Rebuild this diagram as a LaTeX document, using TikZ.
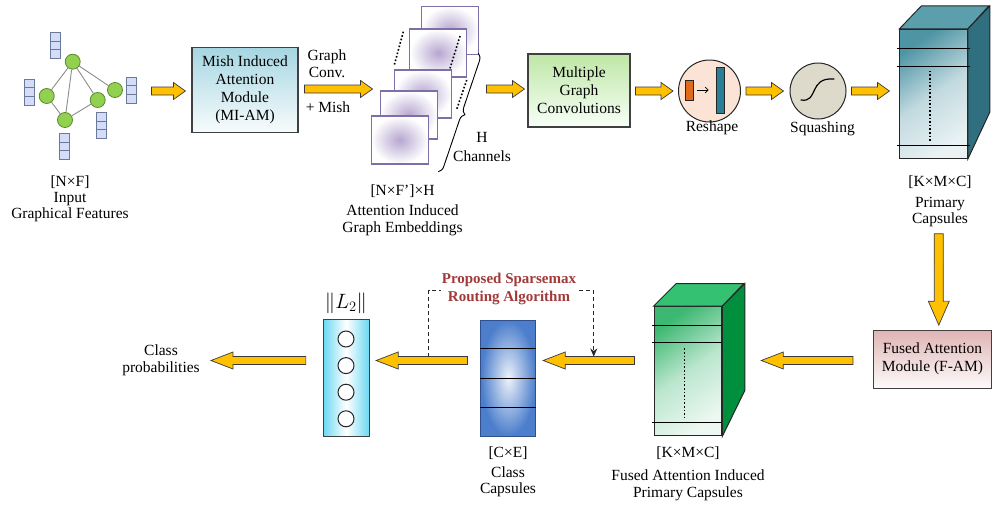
\documentclass[tikz,border=0pt]{standalone}
\usepackage{fontspec}
\setmainfont{Liberation Serif}
\usepackage{tikz}
\usetikzlibrary{arrows.meta,positioning,calc,decorations.pathreplacing}
\definecolor{capgold}{HTML}{FFC000}
\definecolor{capline}{HTML}{3A3A3A}
\definecolor{gnodefill}{HTML}{92D050}
\definecolor{gnodeedge}{HTML}{5A8A30}
\definecolor{featfill}{HTML}{D4DCF8}
\definecolor{featedge}{HTML}{6A7A9A}
\definecolor{miamtop}{HTML}{A6D6E2}
\definecolor{planeedge}{HTML}{7E6FA8}
\definecolor{planemid}{HTML}{B6A6D0}
\definecolor{reshfill}{HTML}{FBE3D5}
\definecolor{reshorange}{HTML}{E06A1A}
\definecolor{reshteal}{HTML}{2A7E96}
\definecolor{sqfill}{HTML}{DEDACB}
\definecolor{primtop}{HTML}{5C9FAC}
\definecolor{primside}{HTML}{2F6F7F}
\definecolor{primdark}{HTML}{4E94A4}
\definecolor{famtop}{HTML}{E0B4B4}
\definecolor{fusetop}{HTML}{34C172}
\definecolor{fuseside}{HTML}{008F3D}
\definecolor{fusedark}{HTML}{3DB872}
\definecolor{ccapouter}{HTML}{4C7ECC}
\definecolor{ccapedge}{HTML}{2F4F8F}
\definecolor{ltwoside}{HTML}{6CD9F2}
\definecolor{routered}{HTML}{A23A3A}
\tikzset{
  box/.style={draw=black!75, line width=1.1pt, align=center, inner sep=2pt, font=\fontsize{15.5}{18}\selectfont},
  lbl/.style={align=center, inner sep=1pt},
  gnode/.style={circle, draw=gnodeedge, fill=gnodefill, line width=0.8pt, minimum size=15pt, inner sep=0pt},
  gedge/.style={draw=black!45, line width=0.9pt},
  featvec/.style={draw=featedge, fill=featfill, line width=0.8pt, minimum width=10pt, minimum height=26pt, inner sep=0pt,
    path picture={\draw[featedge, line width=0.8pt]
      ($(path picture bounding box.north west)!0.333!(path picture bounding box.south west)$) -- ($(path picture bounding box.north east)!0.333!(path picture bounding box.south east)$)
      ($(path picture bounding box.north west)!0.667!(path picture bounding box.south west)$) -- ($(path picture bounding box.north east)!0.667!(path picture bounding box.south east)$);}},
  plane/.style={draw=planeedge, line width=1.3pt, inner color=planemid, outer color=white, minimum width=57pt, minimum height=48pt},
  dotsep/.style={dotted, line width=1.6pt},
  capfront/.style={draw=black!85, line width=1pt, inner sep=0pt},
  blockarrow/.style n args={3}{draw=capline, fill=capgold, line width=0.7pt, line join=miter,
    to path={
      ($(\tikztostart)!#1!90:(\tikztotarget)$)
      -- ($($(\tikztotarget)!#3!(\tikztostart)$)!#1!90:(\tikztotarget)$)
      -- ($($(\tikztotarget)!#3!(\tikztostart)$)!#2!90:(\tikztotarget)$)
      -- (\tikztotarget)
      -- ($($(\tikztotarget)!#3!(\tikztostart)$)!#2!-90:(\tikztotarget)$)
      -- ($($(\tikztotarget)!#3!(\tikztostart)$)!#1!-90:(\tikztotarget)$)
      -- ($(\tikztostart)!#1!-90:(\tikztotarget)$)
      -- cycle}},
  flowarrow/.style={blockarrow={4pt}{8.5pt}{12pt}},
  backarrow/.style={blockarrow={4pt}{8.5pt}{22pt}},
  downarrow/.style={blockarrow={4.5pt}{10.5pt}{24pt}},
  routing/.style={draw=black!85, line width=0.8pt, dash pattern=on 4pt off 3pt, -{Stealth[length=8pt,width=7pt]}}
}

\begin{document}
\begin{tikzpicture}[x=1pt,y=-1pt, font=\fontsize{15.5}{17}\selectfont]
  \useasboundingbox (0,0) rectangle (992,506);

  % Input graph
  \foreach \n/\x/\y in {g1/72.7/61.7, g2/46.7/96, g3/97.7/100, g4/115/90, g5/65/120}
    \node[gnode] (\n) at (\x,\y) {};
  \draw[gedge] (g1) -- (g2) (g1) -- (g5) (g1) -- (g3) (g1) -- (g4) (g2) -- (g5) (g5) -- (g3);
  \foreach \n/\x/\y in {v1/55/45.5, v2/29.6/92, v3/131.7/90, v4/101.7/125.5, v5/64/146.5}
    \node[featvec] (\n) at (\x,\y) {};
  \node[lbl, font=\fontsize{15.5}{16}\selectfont] (inlbl) at (70,199) {[N×F]\\Input\\Graphical Features};

  % MI-AM
  \node[box, top color=miamtop, bottom color=miamtop!8!white, minimum width=106pt, minimum height=85pt] (miam) at (245,90) {Mish Induced\\Attention\\Module\\(MI-AM)};
  \draw[flowarrow] ($(miam.west)+(-40,1)$) to ($(miam.west)+(-6,1)$);
  \node[lbl] (gclbl) at (327,64) {Graph\\Conv.};
  \node[lbl] (mishlbl) at (328,107) {+ Mish};
  \draw[flowarrow] ($(miam.east)+(6,-1)$) to ($(miam.east)+(74,-1)$);

  % attention embeddings
  \foreach \n/\x/\y in {p1/450/30.3, p2/438.3/53, p3/423/94, p4/408.7/115, p5/399.7/140}
    \node[plane] (\n) at (\x,\y) {};
  \draw[dotsep] (403.3,31.7) -- (394.3,65);
  \draw[dotsep] (460,36) -- (450,68.3);
  \draw[dotsep] (466.7,80) -- (456.7,109.3);
  \draw[line width=0.9pt, decorate, decoration={brace, amplitude=7pt}] (478.3,53.3) -- (438.3,171.7);
  \node[lbl, font=\fontsize{15.5}{19}\selectfont] (hlbl) at (482,147) {H\\Channels};
  \node[lbl] (emdim) at (402.5,191) {[N×F']×H};
  \node[lbl] (emlbl) at (402.5,220.5) {Attention Induced\\Graph Embeddings};

  % graph convolutions, reshape, squashing
  \node[box, top color=green!45!olive!35!white, bottom color=green!3!white, minimum width=102pt, minimum height=73pt] (mgc) at (579,90.5) {Multiple\\Graph\\Convolutions};
  \draw[flowarrow] ($(mgc.west)+(-41,-1.5)$) to ($(mgc.west)+(-3,-1.5)$);
  \node[circle, draw=black!85, line width=1pt, fill=reshfill, minimum size=62pt] (resh) at (709.5,91) {};
  \node[draw=black!85, fill=reshorange, line width=0.8pt, minimum width=8pt, minimum height=20pt, inner sep=0pt] (rsin) at (689,90) {};
  \node[draw=black!85, fill=reshteal, line width=0.8pt, minimum width=8pt, minimum height=46pt, inner sep=0pt] (rsout) at (720,90) {};
  \draw[-{Straight Barb[length=3pt]}, line width=0.7pt, shorten <=4pt, shorten >=7pt] (rsin) -- (rsout);
  \node[lbl] (reshlbl) at (712,128) {Reshape};
  \draw[flowarrow] ($(mgc.east)+(5,0.5)$) to ($(resh.west)+(-5,0)$);
  \node[circle, draw=black!85, line width=1pt, fill=sqfill, minimum size=56pt] (sq) at (818,91) {};
  \draw[line width=1.2pt, line cap=round] (801,100) .. controls (819,103) and (808,77) .. (834,79);
  \node[lbl] (sqlbl) at (822.5,129) {Squashing};
  \draw[flowarrow] ($(resh.east)+(5,0)$) to ($(sq.west)+(-6,0)$);

  % primary capsules
  \node[capfront, top color=primdark, bottom color=primdark!12!white, middle color=primdark!35!white, shading angle=35, minimum width=67.5pt, minimum height=129pt] (prim) at (933.7,93.8) {};
  \filldraw[draw=black!85, fill=primtop, line width=1pt] (prim.north west) -- ++(22,-23) -- ++(67.5,0) -- (prim.north east) -- cycle;
  \filldraw[draw=black!85, fill=primside, line width=1pt] (prim.north east) -- ++(22,-23) -- ++(0,106) -- (prim.south east) -- cycle;
  \foreach \d in {19.7,37.4,116.4}
    \draw[line width=1pt] ($(prim.north west)+(-2,\d)$) -- ($(prim.north east)+(2,\d)$);
  \draw[dotsep] ($(prim.north)+(-3.7,42)$) -- ($(prim.north)+(-3.7,112)$);
  \draw[flowarrow] ($(sq.east)+(5,0)$) to ($(prim.west)+(-10,-2.8)$);
  \node[lbl] (primdim) at (940,181.7) {[K×M×C]};
  \node[lbl, font=\fontsize{15.5}{16}\selectfont] (primlbl) at (940,212) {Primary\\Capsules};

  % F-AM
  \node[box, top color=famtop, bottom color=famtop!6!white, minimum width=118pt, minimum height=58pt] (fam) at (932.5,359.2) {Fused Attention\\Module (F-AM)};
  \draw[downarrow] ($(prim.south)+(5,75)$) to ($(fam.north)+(6.3,-4.5)$);

  \coordinate (lowrow) at (0,360.5);
  \coordinate (rtop) at (0,290);

  % fused primary capsules
  \node[capfront, top color=fusedark, bottom color=fusedark!10!white, middle color=fusedark!35!white, shading angle=35, minimum width=67.7pt, minimum height=129.3pt] (fuse) at (687.9,371.3) {};
  \filldraw[draw=black!85, fill=fusetop, line width=1pt] (fuse.north west) -- ++(22.5,-22.5) -- ++(67.7,0) -- (fuse.north east) -- cycle;
  \filldraw[draw=black!85, fill=fuseside, line width=1pt] (fuse.north east) -- ++(22.5,-22.5) -- ++(0,107) -- (fuse.south east) -- cycle;
  \foreach \d in {19.3,36.6,116}
    \draw[line width=1pt] ($(fuse.north west)+(-2,\d)$) -- ($(fuse.north east)+(0,\d)$);
  \draw[dotsep] ($(fuse.north)+(-3.6,42.3)$) -- ($(fuse.north)+(-3.6,112.3)$);
  \node[lbl] (fusedim) at (688,452.7) {[K×M×C]};
  \node[lbl] (fuselbl) at (688,485.5) {Fused Attention Induced\\Primary Capsules};
  \draw[backarrow] ($(fam.west|-lowrow)+(-20,0)$) to ($(fuse.east|-lowrow)+(39,0)$);

  % class capsules and routing
  \node[draw=ccapedge, line width=1pt, inner color=ccapouter!10!white, outer color=ccapouter, minimum width=54.7pt, minimum height=116pt] (cc) at (508.3,378) {};
  \foreach \f in {0.25,0.5,0.75}
    \draw[line width=1pt] ($(cc.north west)!\f!(cc.south west)$) -- ($(cc.north east)!\f!(cc.south east)$);
  \node[lbl] (ccdim) at (508,453) {[C×E]};
  \node[lbl, font=\fontsize{15.5}{16.5}\selectfont] (cclbl) at (508,482) {Class\\Capsules};
  \draw[backarrow] ($(fuse.west|-lowrow)+(-19,0)$) to ($(cc.east|-lowrow)+(7,0)$);
  \draw[backarrow] ($(cc.west|-lowrow)+(-13,0)$) to ($(cc.east|-lowrow)+(-160,0)$);
  \draw[routing] ($(cc.west|-lowrow)+(-51.7,-4)$) coordinate (rs) -- (rs|-rtop) -| ($(cc.east|-lowrow)+(57.6,-4)$);
  \node[lbl, fill=white, text=routered, font=\bfseries\fontsize{15}{18}\selectfont] (routelbl) at (509,288.5) {Proposed Sparsemax\\Routing Algorithm};

  % L2 norm and output
  \node[draw=black!75, line width=1pt, left color=ltwoside, right color=ltwoside, middle color=white, minimum width=45.7pt, minimum height=116.7pt] (ltwo) at (346.2,378.3) {};
  \foreach \i in {0,...,3}
    \node[circle, draw=black!85, fill=white, line width=1pt, minimum size=16pt, inner sep=0pt] (n\i) at (346,{339+26.6*\i}) {};
  \node[lbl, font=\fontsize{22}{24}\selectfont] (ltwolbl) at (346,303) {$\|L_2\|$};
  \node[lbl] (prob) at (161,360) {Class\\probabilities};
  \draw[backarrow] ($(ltwo.west|-lowrow)+(-17,0)$) to ($(prob.east|-lowrow)+(10,0)$);
\end{tikzpicture}
\end{document}
